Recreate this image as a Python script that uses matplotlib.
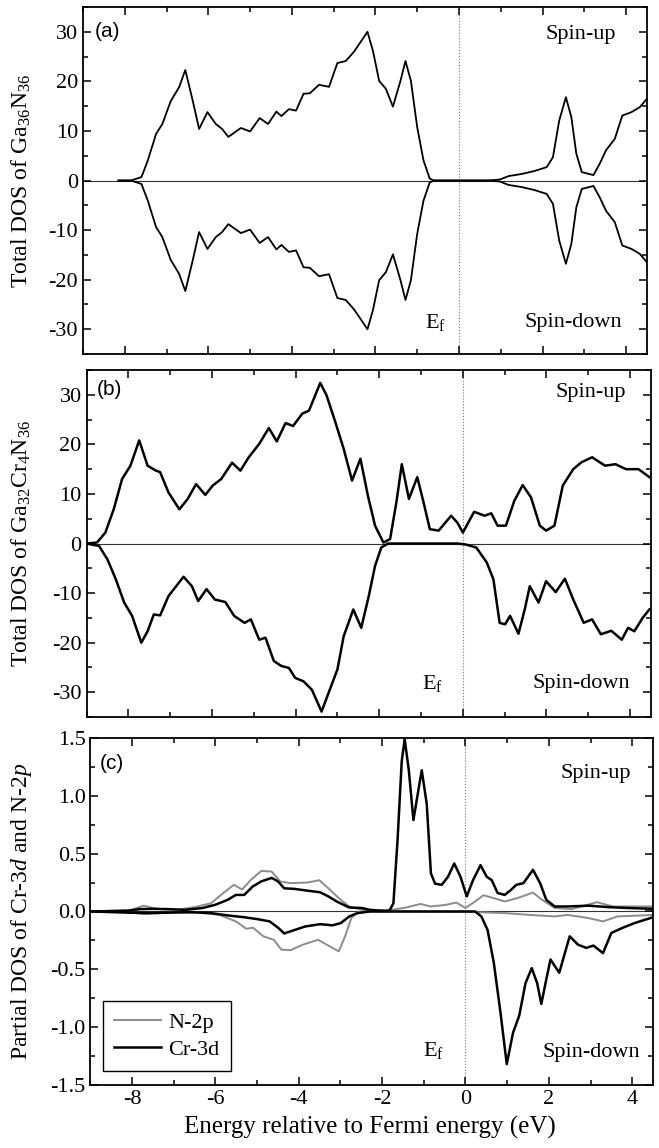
import matplotlib
matplotlib.use('Agg')
import matplotlib.pyplot as plt
from matplotlib.ticker import MultipleLocator

plt.rcParams['font.family'] = ['Liberation Serif', 'DejaVu Serif']
plt.rcParams['mathtext.fontset'] = 'custom'
plt.rcParams['mathtext.rm'] = 'Liberation Serif'
plt.rcParams['mathtext.it'] = 'Liberation Serif:italic'
plt.rcParams['axes.unicode_minus'] = False

# ---- panel (a): Ga36N36, spin-down is the mirror of spin-up
e_a = [-8.15, -7.85, -7.6, -7.45, -7.25, -7.1, -6.9, -6.7, -6.55, -6.37, -6.22, -6.02, -5.82, -5.67,
       -5.52, -5.22, -5.0, -4.77, -4.57, -4.37, -4.25, -4.07, -3.9, -3.72, -3.57, -3.35, -3.11, -2.91,
       -2.71, -2.51, -2.19, -2.06, -1.91, -1.75, -1.58, -1.4, -1.28, -1.15, -1.0, -0.85, -0.7, -0.6,
       0.68, 0.98, 1.19, 1.49, 1.8, 2.1, 2.25, 2.4, 2.56, 2.69, 2.81, 2.94, 3.22, 3.37, 3.52, 3.73,
       3.91, 4.13, 4.33, 4.5]
dos_a = [0, 0, 0.7, 4, 9.4, 11.4, 16, 18.8, 22.3, 16, 10.4, 13.8, 11.4, 10.4, 8.8, 10.6, 9.9, 12.6,
         11.4, 13.9, 13, 14.4, 14.1, 17.5, 17.6, 19.3, 18.9, 23.7, 24.1, 26, 30, 26.2, 20.1, 18.5, 14.9,
         20.1, 24.1, 20.1, 10.8, 4.1, 0.4, 0, 0, 0.2, 0.9, 1.3, 1.9, 2.7, 4.7, 12.1, 16.8, 12.8, 5.4,
         1.7, 1.1, 3.4, 6.1, 8.4, 13.1, 13.8, 14.8, 16.5]

# ---- panel (b): Ga32Cr4N36
e_b_up = [-9.0, -8.75, -8.55, -8.35, -8.15, -7.95, -7.74, -7.54, -7.34, -7.24, -7.04, -6.78, -6.58,
          -6.38, -6.16, -5.98, -5.78, -5.52, -5.32, -5.12, -4.87, -4.64, -4.45, -4.24, -4.06, -3.84,
          -3.68, -3.41, -3.26, -3.05, -2.85, -2.65, -2.45, -2.27, -2.1, -1.9, -1.74, -1.59, -1.46,
          -1.29, -1.09, -0.94, -0.79, -0.58, -0.28, -0.13, 0.0, 0.27, 0.52, 0.68, 0.83, 1.03, 1.23,
          1.43, 1.63, 1.84, 1.99, 2.19, 2.39, 2.64, 2.84, 3.09, 3.4, 3.65, 3.9, 4.2, 4.46]
dos_b_up = [0, 0.2, 2.2, 6.9, 13, 15.7, 20.8, 15.7, 14.7, 14.4, 10.3, 6.9, 9, 12, 9.8, 11.7, 13, 16.3,
            14.7, 17.4, 20.1, 23.3, 20.6, 24.3, 23.7, 26.2, 26.8, 32.4, 29.9, 24.5, 19.1, 12.7, 17.1,
            9.6, 3.6, 0.2, 0.9, 8.3, 16, 9, 13.4, 8.3, 2.9, 2.6, 5.6, 4.2, 2.2, 6.4, 5.6, 6.1, 3.6,
            3.6, 8.6, 11.8, 9.3, 3.6, 2.6, 3.6, 11.7, 15, 16.4, 17.4, 15.7, 16, 15, 15, 13.4]
e_b_dn = [-9.0, -8.7, -8.5, -8.3, -8.1, -7.91, -7.69, -7.54, -7.39, -7.24, -7.04, -6.68, -6.48, -6.33,
          -6.13, -5.93, -5.68, -5.47, -5.22, -5.07, -4.87, -4.72, -4.52, -4.34, -4.16, -4.01, -3.81,
          -3.61, -3.38, -3.21, -3.0, -2.85, -2.62, -2.43, -2.25, -2.1, -1.95, -1.79, -0.13, 0.07,
          0.32, 0.57, 0.73, 0.88, 1.01, 1.13, 1.33, 1.48, 1.6, 1.81, 1.99, 2.22, 2.44, 2.64, 2.89,
          3.09, 3.3, 3.55, 3.8, 3.95, 4.1, 4.3, 4.46]
dos_b_dn = [0, -0.5, -3.2, -7.2, -11.9, -14.6, -20, -17.7, -14.3, -14.5, -10.6, -6.7, -8.6, -11.6,
            -9.2, -11.3, -11.8, -14.6, -16, -15.3, -19.4, -19, -23.7, -24.7, -25.1, -27.1, -27.8,
            -29.5, -33.9, -30.1, -25.4, -18.7, -13.3, -17, -10.6, -4.5, -0.8, 0, 0, -0.2, -0.8,
            -3.8, -7.2, -16, -16.3, -14.6, -18.2, -13.3, -8.6, -11.9, -7.6, -9.8, -7.1, -11.3, -16,
            -15.3, -18.3, -17.6, -19.4, -17, -17.7, -15, -13.3]

# ---- panel (c): partial DOS
e_cr_up = [-9.0, -8.13, -7.82, -7.52, -7.12, -6.72, -6.31, -6.01, -5.71, -5.51, -5.31, -5.11, -4.9,
           -4.65, -4.5, -4.35, -4.1, -3.8, -3.49, -3.29, -3.09, -2.79, -2.49, -2.29, -1.98, -1.83,
           -1.73, -1.63, -1.53, -1.46, -1.36, -1.25, -1.13, -1.05, -0.93, -0.83, -0.73, -0.57, -0.42,
           -0.27, -0.12, 0.03, 0.18, 0.36, 0.51, 0.63, 0.77, 0.94, 1.09, 1.22, 1.39, 1.62, 1.79,
           1.94, 2.14, 2.45, 2.95, 3.45, 3.96, 4.5]
cr_up = [0, 0.005, 0.02, 0.023, 0.02, 0.014, 0.03, 0.057, 0.1, 0.143, 0.143, 0.215, 0.26, 0.29, 0.26,
         0.2, 0.195, 0.18, 0.166, 0.13, 0.086, 0.034, 0.03, 0.014, 0.005, 0.005, 0.07, 0.62, 1.3,
         1.49, 1.22, 0.79, 1.05, 1.22, 0.93, 0.33, 0.24, 0.23, 0.3, 0.415, 0.3, 0.13, 0.27, 0.4,
         0.3, 0.27, 0.16, 0.143, 0.186, 0.23, 0.245, 0.36, 0.245, 0.1, 0.043, 0.043, 0.05, 0.037,
         0.029, 0.023]
e_n_up = [-9.0, -8.03, -7.72, -7.42, -6.92, -6.52, -6.11, -5.81, -5.56, -5.36, -5.16, -4.9, -4.65,
          -4.45, -4.2, -3.8, -3.51, -3.29, -3.04, -2.79, -2.49, -2.08, -1.78, -1.48, -1.08, -0.83,
          -0.47, -0.22, 0.0, 0.23, 0.43, 0.68, 0.94, 1.24, 1.62, 1.84, 2.14, 2.55, 3.15, 3.55, 4.5]
n_up = [0, 0.014, 0.05, 0.023, 0.014, 0.037, 0.07, 0.16, 0.23, 0.19, 0.27, 0.35, 0.345, 0.26, 0.245,
        0.25, 0.27, 0.2, 0.115, 0.043, 0.014, 0.01, 0.014, 0.03, 0.065, 0.043, 0.057, 0.077, 0.03,
        0.086, 0.14, 0.115, 0.086, 0.115, 0.163, 0.1, 0.03, 0.02, 0.08, 0.043, 0.043]
e_cr_dn = [-9.0, -8.13, -7.62, -7.12, -6.62, -6.11, -5.71, -5.31, -5.0, -4.7, -4.5, -4.35, -4.1,
           -3.85, -3.49, -3.19, -2.99, -2.79, -2.59, -2.29, 0.23, 0.38, 0.53, 0.68, 0.84, 0.99,
           1.14, 1.29, 1.44, 1.59, 1.72, 1.82, 1.92, 2.04, 2.25, 2.5, 2.7, 2.9, 3.07, 3.3, 3.5,
           3.76, 4.06, 4.5]
cr_dn = [0, -0.01, -0.014, -0.01, -0.006, -0.014, -0.034, -0.05, -0.066, -0.086, -0.14, -0.19,
         -0.16, -0.13, -0.11, -0.12, -0.1, -0.043, -0.014, 0, 0, -0.043, -0.16, -0.445, -0.875,
         -1.32, -1.05, -0.9, -0.62, -0.49, -0.62, -0.8, -0.62, -0.415, -0.53, -0.215, -0.287,
         -0.315, -0.295, -0.36, -0.186, -0.143, -0.1, -0.05]
e_n_dn = [-9.0, -8.13, -7.72, -7.12, -6.41, -5.91, -5.51, -5.26, -5.1, -4.85, -4.6, -4.42, -4.2,
          -3.9, -3.54, -3.29, -3.04, -2.89, -2.74, -2.59, -2.4, 0.23, 0.94, 1.54, 2.14, 2.45, 2.95,
          3.3, 3.65, 4.5]
n_dn = [0, -0.005, -0.023, -0.011, -0.01, -0.03, -0.086, -0.15, -0.14, -0.215, -0.245, -0.33,
        -0.335, -0.287, -0.245, -0.295, -0.345, -0.215, -0.057, -0.006, 0, -0.006, -0.014, -0.03,
        -0.043, -0.03, -0.057, -0.086, -0.043, -0.03]

GRAY = '#8c8c8c'
FS = 16     # tick labels / annotations
LFS = 17    # axis labels


def style(ax, ymax, ymaj, ymin):
    ax.set_xlim(-9, 4.5)
    ax.set_ylim(-ymax, ymax)
    ax.xaxis.set_major_locator(MultipleLocator(2))
    ax.xaxis.set_minor_locator(MultipleLocator(1))
    ax.yaxis.set_major_locator(MultipleLocator(ymaj))
    ax.yaxis.set_minor_locator(MultipleLocator(ymin))
    ax.tick_params(which='both', direction='in', top=True, right=True, width=1.1, labelsize=FS)
    ax.tick_params(which='major', length=6)
    ax.tick_params(which='minor', length=3.5)
    for s in ax.spines.values():
        s.set_linewidth(1.3)
    ax.axhline(0, color='#333333', lw=0.8, zorder=1)
    ax.axvline(0, color='#777777', lw=0.8, ls=':', zorder=1)


fig = plt.figure(figsize=(6.59, 11.48), dpi=100)
ax_a = fig.add_axes([0.1259, 0.6916, 0.8558, 0.3023])
ax_b = fig.add_axes([0.1313, 0.3754, 0.8566, 0.3023])
ax_c = fig.add_axes([0.1373, 0.0549, 0.8536, 0.3023])

# (a)
style(ax_a, 35, 10, 5)
ax_a.plot(e_a, dos_a, color='k', lw=1.3)
ax_a.plot(e_a, [-v for v in dos_a], color='k', lw=1.3)
ax_a.set_yticks([-30, -20, -10, 0, 10, 20, 30])
ax_a.tick_params(labelbottom=False)
ax_a.set_ylabel('Total DOS of Ga$_{36}$N$_{36}$', fontsize=LFS)
ax_a.yaxis.set_label_coords(-0.088, 0.5)
ax_a.text(-8.72, 30, '(a)', family='Liberation Sans', fontsize=15, va='center')
ax_a.text(3.75, 29.5, 'Spin-up', ha='right', va='center', fontsize=FS)
ax_a.text(3.9, -28.6, 'Spin-down', ha='right', va='center', fontsize=FS)
ax_a.text(-0.3, -28.6, 'E$_{\\mathrm{f}}$', ha='right', va='center', fontsize=FS)

# (b)
style(ax_b, 35, 10, 5)
ax_b.plot(e_b_up, dos_b_up, color='k', lw=1.8)
ax_b.plot(e_b_dn, dos_b_dn, color='k', lw=1.8)
ax_b.set_yticks([-30, -20, -10, 0, 10, 20, 30])
ax_b.tick_params(labelbottom=False)
ax_b.set_ylabel('Total DOS of Ga$_{32}$Cr$_{4}$N$_{36}$', fontsize=LFS)
ax_b.yaxis.set_label_coords(-0.094, 0.5)
ax_b.text(-8.75, 31, '(b)', family='Liberation Sans', fontsize=15, va='center')
ax_b.text(3.9, 30.5, 'Spin-up', ha='right', va='center', fontsize=FS)
ax_b.text(4.0, -28.3, 'Spin-down', ha='right', va='center', fontsize=FS)
ax_b.text(-0.48, -28.3, 'E$_{\\mathrm{f}}$', ha='right', va='center', fontsize=FS)

# (c)
style(ax_c, 1.5, 0.5, 0.25)
ax_c.plot(e_n_up, n_up, color=GRAY, lw=1.4, label='N-2p')
ax_c.plot(e_n_dn, n_dn, color=GRAY, lw=1.4)
ax_c.plot(e_cr_up, cr_up, color='k', lw=1.8, label='Cr-3d')
ax_c.plot(e_cr_dn, cr_dn, color='k', lw=1.8)
ax_c.yaxis.set_major_formatter(plt.FormatStrFormatter('%.1f'))
ax_c.set_ylabel('Partial DOS of Cr-3$\\mathit{d}$ and N-2$\\mathit{p}$', fontsize=LFS)
ax_c.yaxis.set_label_coords(-0.1, 0.5)
ax_c.set_xlabel('Energy relative to Fermi energy (eV)', fontsize=18)
ax_c.xaxis.set_label_coords(0.497, -0.088)
ax_c.text(-8.78, 1.28, '(c)', family='Liberation Sans', fontsize=15, va='center')
ax_c.text(3.96, 1.19, 'Spin-up', ha='right', va='center', fontsize=FS)
ax_c.text(4.19, -1.22, 'Spin-down', ha='right', va='center', fontsize=FS)
ax_c.text(-0.52, -1.2, 'E$_{\\mathrm{f}}$', ha='right', va='center', fontsize=FS)
leg = ax_c.legend(loc='lower left', bbox_to_anchor=(0.022, 0.04), fontsize=FS, fancybox=False,
                  edgecolor='k', handlelength=2.1, handletextpad=0.35, borderaxespad=0,
                  framealpha=1, borderpad=0.5, labelspacing=0.3)
leg.get_frame().set_linewidth(1.0)

fig.savefig('out.png', dpi=100)
